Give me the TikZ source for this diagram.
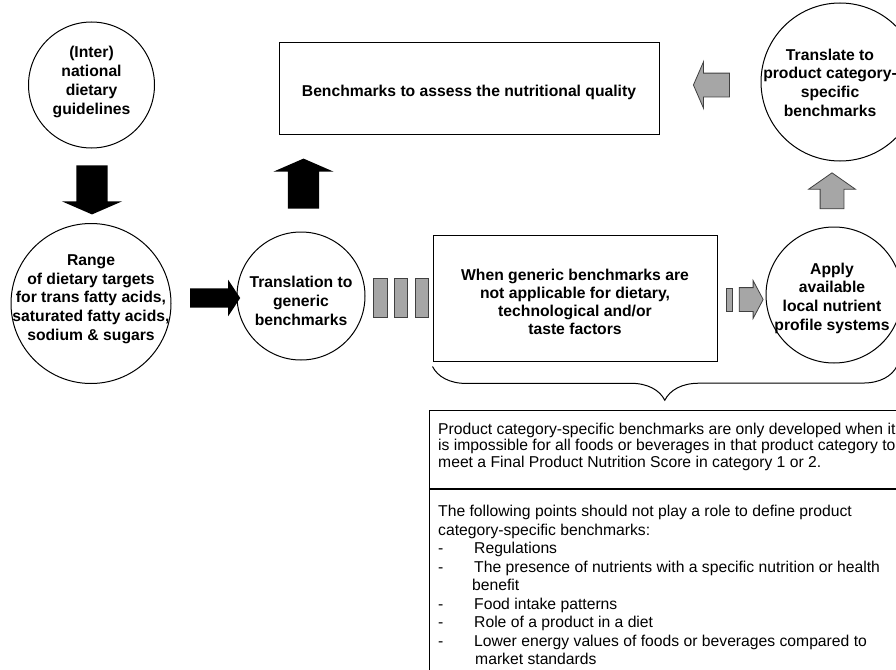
\documentclass[tikz,border=0pt]{standalone}
\usepackage{fontspec}
\setmainfont{Liberation Sans}
\usetikzlibrary{shapes.arrows,decorations.pathreplacing,positioning}
\definecolor{bargray}{HTML}{A6A6A6}

\begin{document}
\begin{tikzpicture}[x=1pt, y=-1pt,
  circ/.style={draw, circle, line width=1pt, inner sep=0pt},
  ctext/.style={align=center, inner sep=0pt, font=\fontsize{15.7}{18.7}\selectfont\bfseries},
  box/.style={draw, rectangle, line width=1pt, inner sep=0pt, align=center, font=\fontsize{15.7}{18}\selectfont\bfseries},
  blk/.style={single arrow, fill=black, inner sep=0pt},
  gry/.style={single arrow, draw=black!75, fill=bargray, line width=0.8pt, inner sep=0pt},
  bar/.style={draw=black!75, fill=bargray, line width=0.8pt, inner sep=0pt},
  note/.style={align=left, inner sep=0pt, anchor=north west},
  node distance=7pt]
\useasboundingbox (0,0) rectangle (896,669);
\clip (0,0) rectangle (896,669);

% circles
\node[circ, minimum size=126pt] (guides) at (91.5,85) {};
\node[ctext] (guidestext) at (91.5,82) {(Inter)\\national\\dietary\\guidelines};
\node[circ, minimum size=160pt] (range) at (91,303.5) {};
\node[ctext] (rangetext) at (91,299) {Range\\of dietary targets\\for trans fatty acids,\\saturated fatty acids,\\sodium \& sugars};
\node[circ, minimum size=128pt] (generic) at (301,296) {};
\node[ctext] (generictext) at (301,301) {Translation to\\generic\\benchmarks};
\node[circ, minimum size=136pt] (apply) at (834,295) {};
\node[ctext] (applytext) at (832,298) {Apply\\available\\local nutrient\\profile systems};
\node[circ, minimum size=158pt] (specific) at (840,82) {};
\node[ctext] (specifictext) at (830,82.5) {Translate to\\product category-\\specific\\benchmarks};

% boxes
\node[box, minimum width=380pt, minimum height=91pt, text height=19pt] (quality) at (469,88.5) {Benchmarks to assess the nutritional quality};
\node[box, minimum width=284pt, minimum height=126pt] (gap) at (575,298) {};
\node[ctext, font=\fontsize{15.7}{18}\selectfont\bfseries] (gaptext) at (575,302) {When generic benchmarks are\\not applicable for dietary,\\technological and/or\\taste factors};

% block arrows
\node[blk, rotate=-90, minimum height=49pt, minimum width=60pt, inner ysep=15.5pt, single arrow head extend=14.5pt, single arrow tip angle=133] (down) at (92,186.5) {};
\node[blk, rotate=90, minimum height=50pt, minimum width=60pt, inner ysep=15.5pt, single arrow head extend=14.5pt, single arrow tip angle=133] (up) at (303.5,187) {};
\node[blk, minimum height=50pt, minimum width=36pt, inner ysep=9.5pt, single arrow head extend=8.5pt, single arrow tip angle=113] (ahead) at (212,298) {};
\node[gry, rotate=180, minimum height=36pt, minimum width=46pt, inner ysep=11.5pt, single arrow head extend=11.5pt, single arrow tip angle=133] (back) at (714,85) {};
\node[gry, rotate=90, minimum height=36pt, minimum width=46pt, inner ysep=11.5pt, single arrow head extend=11.5pt, single arrow tip angle=110] (rise) at (832,195) {};
\node[gry, minimum height=24pt, minimum width=37pt, inner ysep=11.5pt, single arrow head extend=7pt, single arrow tip angle=124] (toapply) at (748,299.5) {};

% gray bars
\node[bar, minimum width=14pt, minimum height=39pt] (bar1) at (380,297.5) {};
\node[bar, minimum width=13pt, minimum height=39pt, right=of bar1] (bar2) {};
\node[bar, minimum width=13pt, minimum height=39pt, right=of bar2] (bar3) {};
\node[bar, minimum width=6pt, minimum height=23pt] (bar4) at (729,299.5) {};

% brace
\coordinate (braceL) at ([yshift=-5pt]gap.south west);
\coordinate (braceR) at (897,366);
\draw[decorate, decoration={brace, mirror, amplitude=34pt}, line width=1pt] (braceL) -- (braceR);

% bottom text box
\node[box, anchor=north west, minimum width=500pt, minimum height=78pt] (whybox) at (429,410) {};
\node[box, anchor=north west, minimum width=500pt, minimum height=220pt] (notebox) at (429,489) {};
\node[note, font=\fontsize{15.7}{16.7}\selectfont] (whytext) at (438,422.6) {Product category-specific benchmarks are only developed when it\\is impossible for all foods or beverages in that product category to\\meet a Final Product Nutrition Score in category 1 or 2.};
\node[note, font=\fontsize{15.7}{18.5}\selectfont] (notetext) at (438,505.3) {The following points should not play a role to define product\\category-specific benchmarks:\\\makebox[36pt][l]{-}Regulations\\\makebox[36pt][l]{-}The presence of nutrients with a specific nutrition or health\\\hspace*{34pt}benefit\\\makebox[36pt][l]{-}Food intake patterns\\\makebox[36pt][l]{-}Role of a product in a diet\\\makebox[36pt][l]{-}Lower energy values of foods or beverages compared to\\\hspace*{37pt}market standards};
\end{tikzpicture}
\end{document}
